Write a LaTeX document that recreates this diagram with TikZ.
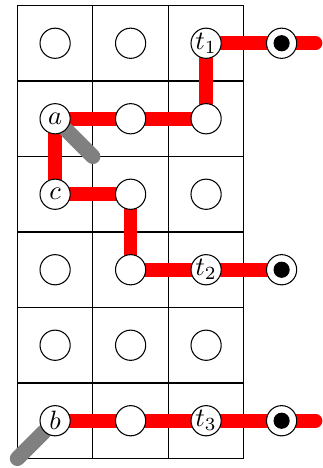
\documentclass[tikz,border=0pt]{standalone}
\usepackage{tikz}
\usetikzlibrary{backgrounds}

\begin{document}
\begin{tikzpicture}[
    vertex/.style={draw, circle, fill=white, minimum size=0.4cm, inner sep=0pt},
    dot/.style={draw, circle, fill=black, minimum size=0.2cm, inner sep=0pt},
    route/.style={red, line width=0.18cm, line cap=round},
    cable/.style={gray, line width=0.2cm, line cap=round}
]
    \useasboundingbox (-0.23,-0.126) rectangle (4.04,6.073);

    % empty cells
    \foreach \c/\r in {1/6,2/6,2/5,3/5,2/4,3/4,1/3,2/3,1/2,2/2,3/2,2/1}
        \node[vertex] (v\c\r) at (\c-0.5,\r-0.5) {};

    \node[vertex] (t1) at (2.5,5.5) {$t_1$};
    \node[vertex] (a) at (0.5,4.5) {$a$};
    \node[vertex] (c) at (0.5,3.5) {$c$};
    \node[vertex] (t2) at (2.5,2.5) {$t_2$};
    \node[vertex] (b) at (0.5,0.5) {$b$};
    \node[vertex] (t3) at (2.5,0.5) {$t_3$};

    % sinks
    \foreach \i/\r in {1/5.5,2/2.5,3/0.5} {
        \node[vertex] (s\i) at (3.5,\r) {};
        \node[dot] (d\i) at (s\i) {};
    }

    \coordinate (e1) at (3.95,5.5);
    \coordinate (e3) at (3.95,0.5);
    \coordinate (g1) at (1,4);
    \coordinate (g2) at (0,0);

    \begin{scope}[on background layer]
        \draw (0,0) grid (3,6);
        \draw[route] (e1) -- (s1) -- (t1) -- (v35) -- (v25) -- (a) -- (c) -- (v24) -- (v23) -- (t2) -- (s2);
        \draw[route] (b) -- (v21) -- (t3) -- (s3) -- (e3);
        \draw[cable] (a) -- (g1);
        \draw[cable] (b) -- (g2);
    \end{scope}
\end{tikzpicture}
\end{document}
